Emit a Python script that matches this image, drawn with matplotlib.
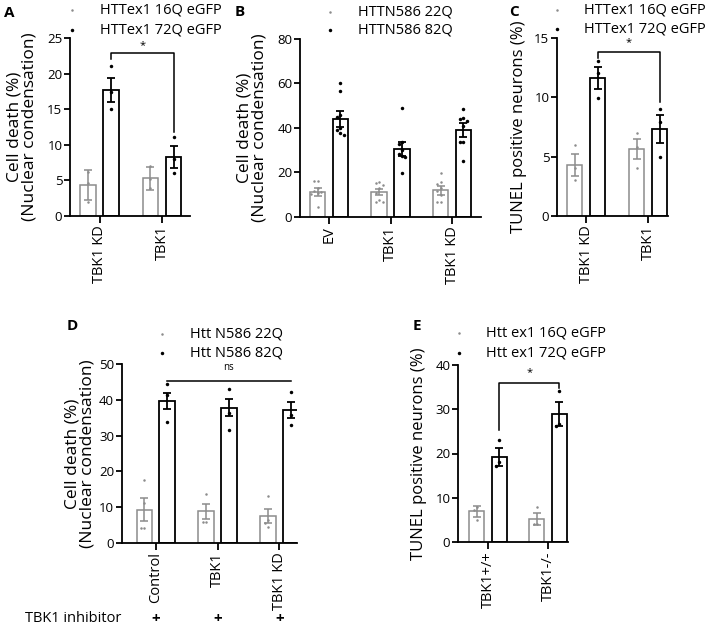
import matplotlib
matplotlib.use("Agg")
import matplotlib.pyplot as plt
import matplotlib.transforms as mtrans
from matplotlib.lines import Line2D
import numpy as np

plt.rcParams['font.family'] = ['Open Sans', 'DejaVu Sans']

# ---------------- data ----------------
A_groups = ["TBK1 KD", "TBK1"]
A_series = ["HTTex1 16Q eGFP", "HTTex1 72Q eGFP"]
A_mean_lo = [4.3, 5.3]
A_sem_lo = [2.1, 1.6]
A_pts_lo = [[6.2, 4.7, 2.0], [7.0, 5.2, 3.9]]
A_mean_hi = [17.7, 8.3]
A_sem_hi = [1.7, 1.5]
A_pts_hi = [[21.1, 17.4, 15.0], [11.1, 8.0, 6.0]]
A_yticks = [0, 5, 10, 15, 20, 25]

B_groups = ["EV", "TBK1", "TBK1 KD"]
B_series = ["HTTN586 22Q", "HTTN586 82Q"]
B_mean_lo = [11.3, 11.1, 11.8]
B_sem_lo = [1.8, 1.2, 1.9]
B_pts_lo = [[16.0, 16.0, 13.0, 11.5, 11.0, 10.5, 10.0, 4.5],
            [15.5, 15.0, 14.1, 12.8, 10.5, 7.5, 6.8, 6.8],
            [19.8, 15.5, 14.7, 13.0, 11.5, 9.8, 6.5, 6.5]]
B_mean_hi = [44.0, 30.5, 39.0]
B_sem_hi = [3.5, 3.0, 3.0]
B_pts_hi = [[60.0, 56.7, 45.8, 44.7, 40.0, 39.0, 37.5, 37.0],
            [48.8, 33.8, 32.7, 30.0, 28.2, 27.3, 27.0, 19.8],
            [48.4, 44.3, 44.0, 43.2, 41.0, 33.8, 33.8, 25.0]]
B_yticks = [0, 20, 40, 60, 80]

C_groups = ["TBK1 KD", "TBK1"]
C_series = ["HTTex1 16Q eGFP", "HTTex1 72Q eGFP"]
C_mean_lo = [4.3, 5.65]
C_sem_lo = [0.9, 0.85]
C_pts_lo = [[6.0, 4.0, 3.0], [7.0, 5.8, 4.0]]
C_mean_hi = [11.6, 7.3]
C_sem_hi = [0.95, 1.2]
C_pts_hi = [[13.0, 12.05, 9.95], [9.0, 7.9, 5.0]]
C_yticks = [0, 5, 10, 15]

D_groups = ["Control", "TBK1", "TBK1 KD"]
D_series = ["Htt N586 22Q", "Htt N586 82Q"]
D_mean_lo = [9.3, 8.8, 7.4]
D_sem_lo = [3.2, 2.1, 2.0]
D_pts_lo = [[17.6, 11.0, 4.2, 4.2], [13.6, 5.9, 5.9], [13.1, 6.5, 5.4, 4.3]]
D_mean_hi = [39.8, 37.8, 37.2]
D_sem_hi = [2.2, 2.4, 2.3]
D_pts_hi = [[44.4, 41.3, 33.7], [43.1, 36.3, 31.6], [42.3, 35.8, 33.0]]
D_yticks = [0, 10, 20, 30, 40, 50]
D_inhibitor = ["+", "+", "+"]

E_groups = ["TBK1+/+", "TBK1-/-"]
E_series = ["Htt ex1 16Q eGFP", "Htt ex1 72Q eGFP"]
E_mean_lo = [6.9, 5.2]
E_sem_lo = [1.2, 1.4]
E_pts_lo = [[8.0, 7.3, 5.0], [8.0, 4.1, 4.1]]
E_mean_hi = [19.2, 28.9]
E_sem_hi = [2.0, 2.7]
E_pts_hi = [[23.0, 18.1, 17.2], [34.2, 26.7, 26.2]]
E_yticks = [0, 10, 20, 30, 40]

# ---------------- layout helpers ----------------
W, H = 709, 628
fig = plt.figure(figsize=(W / 100, H / 100), dpi=100)

GRAY = '#8c8c8c'
OFF = 0.185
BW = 0.25


def add_ax(left, right, top, bottom):
    return fig.add_axes([left / W, 1 - bottom / H, (right - left) / W, (bottom - top) / H])


def swarm(vals, ymax, thr_frac=0.03, d=0.055):
    placed = []
    offs = []
    for v in vals:
        used = [o for (pv, o) in placed if abs(pv - v) < thr_frac * ymax]
        for cand in [0, -d, d, -2 * d, 2 * d, -3 * d, 3 * d]:
            if all(abs(cand - u) > 1e-9 for u in used):
                break
        placed.append((v, cand))
        offs.append(cand)
    return offs


def panel(ax, groups, mlo, slo, plo, mhi, shi, phi, yticks, xlim, ylab, ylab_x, ylab_fs=12.5):
    x = np.arange(len(groups))
    ymax = yticks[-1]
    for xs, means, sems, pts, col, lw, ms in [
            (x - OFF, mlo, slo, plo, GRAY, 1.1, 1.8),
            (x + OFF, mhi, shi, phi, 'black', 1.3, 2.5)]:
        ax.bar(xs, means, width=BW, facecolor='white', edgecolor=col, linewidth=lw, zorder=2)
        ax.errorbar(xs, means, yerr=sems, fmt='none', ecolor=col, elinewidth=lw,
                    capsize=3.2, capthick=lw, zorder=3)
        for xi, p in zip(xs, pts):
            offs = swarm(p, ymax)
            ax.plot(xi + np.array(offs), p, 'o', color=col, ms=ms, mew=0, zorder=4, clip_on=False)
    ax.set_xlim(*xlim)
    ax.set_ylim(0, ymax)
    ax.set_yticks(yticks)
    ax.set_xticks(x)
    ax.set_xticklabels(groups, rotation=90, fontsize=10.5)
    ax.tick_params(axis='y', labelsize=9.5, length=4, width=1.3, pad=1.5)
    ax.tick_params(axis='x', length=5, width=1.3, pad=2)
    for s in ['top', 'right']:
        ax.spines[s].set_visible(False)
    for s in ['left', 'bottom']:
        ax.spines[s].set_linewidth(1.3)
    ax.set_ylabel(ylab, fontsize=ylab_fs, linespacing=0.95)
    ax.yaxis.set_label_coords(ylab_x, 0.5)
    return x


def legend(xdot, xtxt, y1, y2, labels):
    fig.add_artist(Line2D([xdot / W], [1 - y1 / H], marker='o', ms=1.8, mew=0, color=GRAY, linestyle='none'))
    fig.add_artist(Line2D([xdot / W], [1 - y2 / H], marker='o', ms=2.5, mew=0, color='black', linestyle='none'))
    fig.text(xtxt / W, 1 - y1 / H, labels[0], fontsize=10.5, va='center', ha='left')
    fig.text(xtxt / W, 1 - y2 / H, labels[1], fontsize=10.5, va='center', ha='left')


def bracket(ax, x0, x1, ytop, yl, yr, txt, ty, fs=8):
    ax.plot([x0, x0, x1, x1], [yl, ytop, ytop, yr], color='black', lw=1.1, clip_on=False, zorder=5)
    ax.text((x0 + x1) / 2, ty, txt, ha='center', va='center', fontsize=fs, clip_on=False)


def letter(x, y, s):
    fig.text(x / W, 1 - y / H, s, fontsize=11, fontweight='bold', va='center', ha='left')


# ---------------- Panel A ----------------
axA = add_ax(70, 190, 38, 216)
xA = panel(axA, A_groups, A_mean_lo, A_sem_lo, A_pts_lo, A_mean_hi, A_sem_hi, A_pts_hi,
           A_yticks, (-0.472, 1.448), "Cell death (%)\n(Nuclear condensation)", -0.27)
bracket(axA, xA[0] + OFF, xA[1] + OFF, 22.9, 22.0, 11.8, "*", 24.0)
legend(72, 100, 10, 30, A_series)
letter(4, 13, "A")

# ---------------- Panel B ----------------
axB = add_ax(300, 481, 39, 216.7)
panel(axB, B_groups, B_mean_lo, B_sem_lo, B_pts_lo, B_mean_hi, B_sem_hi, B_pts_hi,
      B_yticks, (-0.472, 2.47), "Cell death (%)\n(Nuclear condensation)", -0.18)
legend(330, 358, 12, 30, B_series)
letter(235, 12, "B")

# ---------------- Panel C ----------------
axC = add_ax(557, 668, 37.7, 216)
xC = panel(axC, C_groups, C_mean_lo, C_sem_lo, C_pts_lo, C_mean_hi, C_sem_hi, C_pts_hi,
           C_yticks, (-0.468, 1.32), "TUNEL positive neurons (%)", -0.27, ylab_fs=12)
bracket(axC, xC[0] + OFF, xC[1] + OFF, 13.8, 13.3, 9.6, "*", 14.55)
legend(557, 584, 10, 29, C_series)
letter(509, 12, "C")

# ---------------- Panel D ----------------
axD = add_ax(121.7, 296.7, 364.3, 542.7)
xD = panel(axD, D_groups, D_mean_lo, D_sem_lo, D_pts_lo, D_mean_hi, D_sem_hi, D_pts_hi,
           D_yticks, (-0.55, 2.28), "Cell death (%)\n(Nuclear condensation)", -0.15)
axD.plot([xD[0] + OFF, xD[-1] + OFF], [45.4, 45.4], color='black', lw=1.1, clip_on=False)
axD.text((xD[0] + xD[-1]) / 2 + OFF, 49.0, "ns", ha='center', va='center', fontsize=7, clip_on=False)
legend(162, 190, 334, 353, D_series)
letter(67, 326, "D")
fig.text(25 / W, 1 - 619 / H, "TBK1 inhibitor", fontsize=10.5, va='center', ha='left')
trD = mtrans.blended_transform_factory(axD.transData, fig.transFigure)
for xi, s in zip(xD, D_inhibitor):
    fig.text(xi, 1 - 619 / H, s, transform=trD, fontsize=11, fontweight='bold', va='center', ha='center')

# ---------------- Panel E ----------------
axE = add_ax(458, 568, 365, 542)
xE = panel(axE, E_groups, E_mean_lo, E_sem_lo, E_pts_lo, E_mean_hi, E_sem_hi, E_pts_hi,
           E_yticks, (-0.5, 1.333), "TUNEL positive neurons (%)", -0.28, ylab_fs=12)
bracket(axE, xE[0] + OFF, xE[1] + OFF, 36.0, 25.3, 34.8, "*", 38.3)
legend(459, 486, 333, 353, E_series)
letter(413, 326, "E")

fig.savefig("out.png", dpi=100)
